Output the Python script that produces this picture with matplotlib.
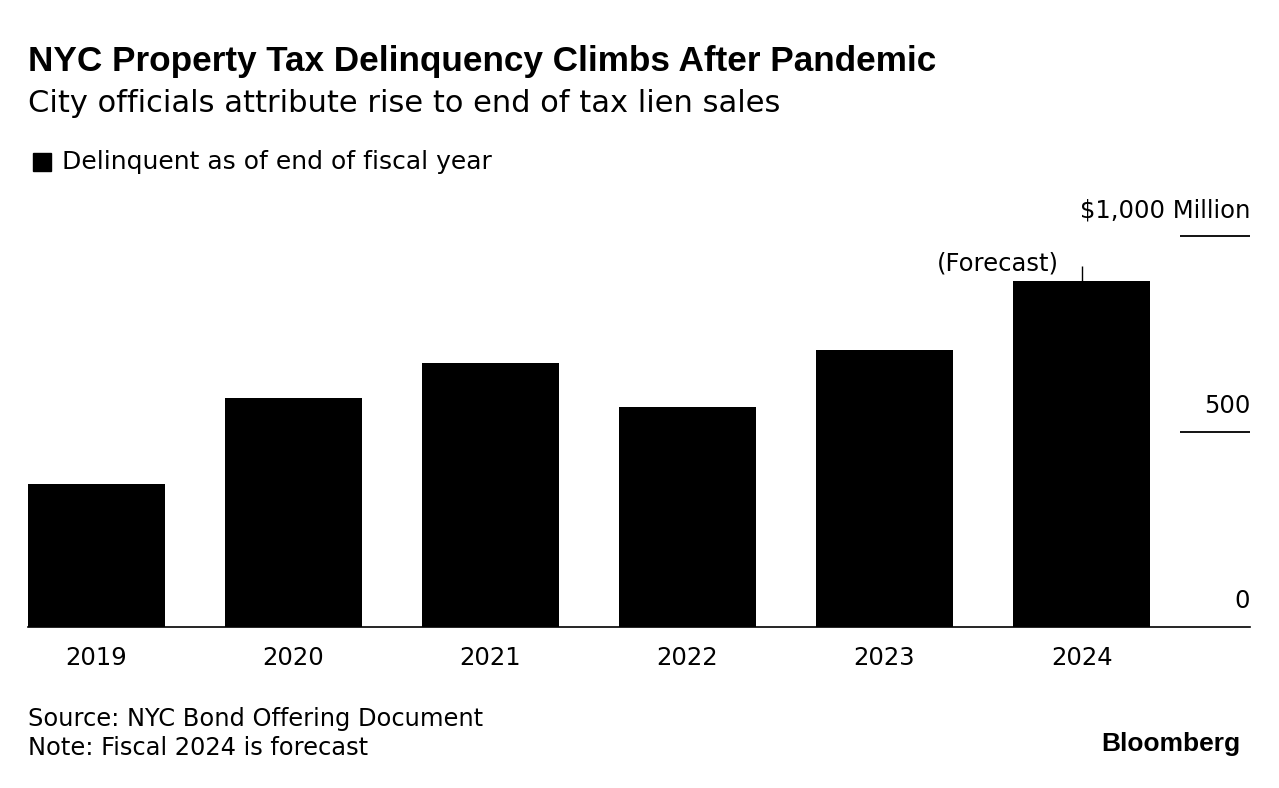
import matplotlib.pyplot as plt
from matplotlib.patches import Rectangle

plt.rcParams['font.family'] = ['DejaVu Sans']
BOLD = ['Liberation Sans', 'DejaVu Sans']

# Data (millions of dollars, delinquent at end of fiscal year)
years = ['2019', '2020', '2021', '2022', '2023', '2024']
delinquent = [366, 586, 675, 563, 708, 886]
y_ticks = [0, 500, 1000]
y_tick_labels = ['0', '500', '$1,000 Million']

W, H = 1279, 788
fig = plt.figure(figsize=(W / 100, H / 100), dpi=100)

# Axes placed in pixel terms: baseline at y=627, 1000 at y=236
ax = fig.add_axes([28 / W, 1 - 627 / H, (1250 - 28) / W, (627 - 236) / H])
x = list(range(len(years)))
ax.bar(x, delinquent, width=0.695, color='black', zorder=2)
ax.set_xlim(-0.348, 5.855)
ax.set_ylim(0, 1000)

for s in ['top', 'right', 'left']:
    ax.spines[s].set_visible(False)
ax.spines['bottom'].set_linewidth(1.2)
ax.set_yticks([])
ax.set_xticks(x)
ax.set_xticklabels(years, fontsize=17.5)
ax.tick_params(axis='x', length=0, pad=14)

# Right-side gridline stubs and labels
for v, lab in zip(y_ticks, y_tick_labels):
    if v > 0:
        ax.hlines(v, 5.5, 5.855, color='black', linewidth=1.3, clip_on=False)
    ax.annotate(lab, xy=(5.855, v), xytext=(0, 10), textcoords='offset points',
                ha='right', va='bottom', fontsize=17.5, annotation_clip=False)

# Forecast marker on last bar
ax.vlines(5, delinquent[-1], delinquent[-1] + 38, color='black', linewidth=1)
ax.annotate('(Forecast)', xy=(5, delinquent[-1] + 44), xytext=(-16, 0),
            textcoords='offset points', ha='right', va='center', fontsize=17.5)

# Titles
fig.text(28 / W, 1 - 62 / H, 'NYC Property Tax Delinquency Climbs After Pandemic',
         fontsize=25.3, fontweight='bold', family=BOLD, va='center', ha='left')
fig.text(28 / W, 1 - 103 / H, 'City officials attribute rise to end of tax lien sales',
         fontsize=22, va='center', ha='left')

# Legend
fig.patches.append(Rectangle((33 / W, 1 - 171 / H), 18 / W, 18 / H,
                             transform=fig.transFigure, color='black'))
fig.text(62 / W, 1 - 162 / H, 'Delinquent as of end of fiscal year',
         fontsize=18, va='center', ha='left')

# Footer
fig.text(28 / W, 1 - 719 / H, 'Source: NYC Bond Offering Document',
         fontsize=17.4, va='center', ha='left')
fig.text(28 / W, 1 - 748 / H, 'Note: Fiscal 2024 is forecast',
         fontsize=17.4, va='center', ha='left')
fig.text(1240 / W, 1 - 744 / H, 'Bloomberg', fontsize=19, fontweight='bold',
         family=BOLD, va='center', ha='right')

fig.savefig('out.png', dpi=100)
